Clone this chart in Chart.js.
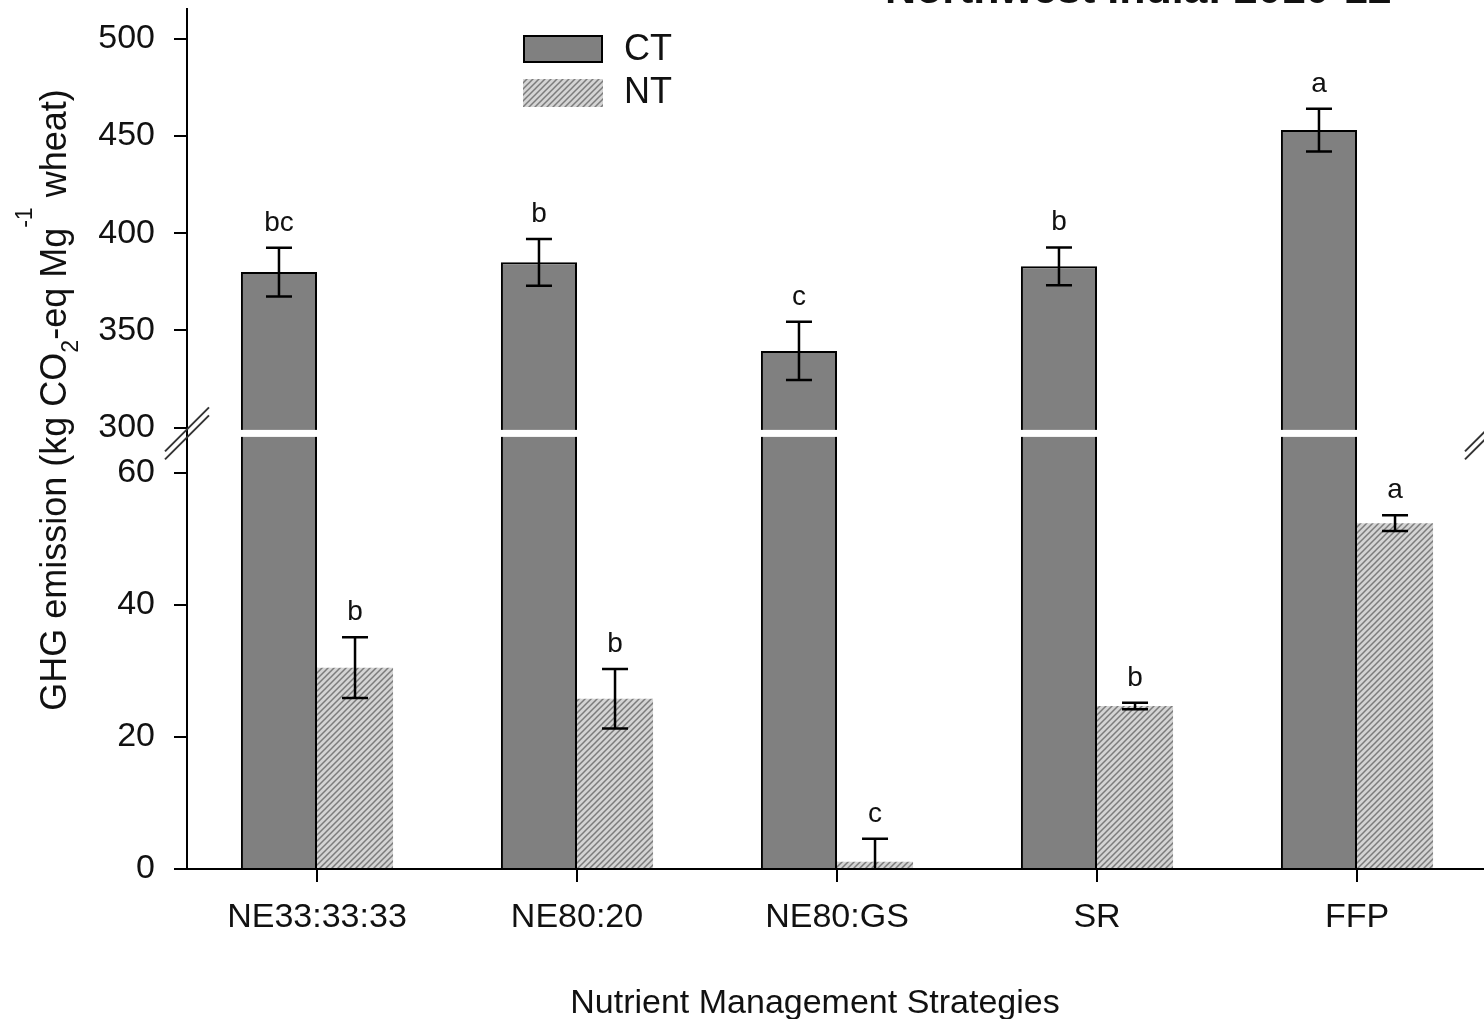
<!DOCTYPE html>
<html>
<head>
<meta charset="utf-8">
<script src="https://cdn.jsdelivr.net/npm/chart.js@4.4.1/dist/chart.umd.min.js"></script>
<style>
  html, body { margin: 0; padding: 0; background: #fff; overflow: hidden; }
  #wrap { width: 1484px; height: 1019px; overflow: hidden; position: relative; }
  canvas { position: absolute; left: 0; top: 0; }
</style>
</head>
<body>
<div id="wrap"><canvas id="ghgChart" width="1500" height="1019"></canvas></div>
<script>
// Data
const categories = ["NE33:33:33", "NE80:20", "NE80:GS", "SR", "FFP"];
const ctValues = [380, 385, 339.5, 383, 453];
const ctErrors = [12.5, 12, 15, 9.7, 11];
const ctLetters = ["bc", "b", "c", "b", "a"];
const ntValues = [30.5, 25.8, 1.1, 24.7, 52.4];
const ntErrors = [4.6, 4.5, 3.5, 0.5, 1.2];
const ntLetters = ["b", "b", "c", "b", "a"];
const lowTicks = [0, 20, 40, 60];
const highTicks = [300, 350, 400, 450, 500];

// Broken y axis: 0..66 drawn at full scale, 297..515 compressed above it
const BREAK_LOW = 66;
const BREAK_HIGH = 297.1;
const HIGH_RATIO = 0.2948;
const AXIS_MAX = 130.3;

function toAxis(v) {
  if (v <= BREAK_LOW) return v;
  if (v < BREAK_HIGH) return BREAK_LOW;
  return BREAK_LOW + (v - BREAK_HIGH) * HIGH_RATIO;
}

const FONT = "'Liberation Sans', Arial, sans-serif";
const TEXT = "#111";
const tickValues = [...lowTicks, ...highTicks];

function makeHatch() {
  const c = document.createElement("canvas");
  c.width = 6; c.height = 6;
  const g = c.getContext("2d");
  g.fillStyle = "#d4d4d4";
  g.fillRect(0, 0, 6, 6);
  g.strokeStyle = "#7c7c7c";
  g.lineWidth = 1.5;
  g.beginPath();
  g.moveTo(-1, 7); g.lineTo(7, -1);
  g.moveTo(-1, 1); g.lineTo(1, -1);
  g.moveTo(5, 7); g.lineTo(7, 5);
  g.stroke();
  return g.createPattern(c, "repeat");
}
const hatch = makeHatch();

// Error bars, letters, break gaps, legend and titles
const decor = {
  id: "decor",
  afterDatasetsDraw(chart) {
    const ctx = chart.ctx;
    const y = chart.scales.y;
    const gapY = y.getPixelForValue(BREAK_LOW);

    // white gap across the tall CT bars
    ctx.save();
    ctx.fillStyle = "#fff";
    chart.getDatasetMeta(0).data.forEach(bar => {
      ctx.fillRect(bar.x - bar.width / 2 - 2, gapY - 3.5, bar.width + 4, 7);
    });
    ctx.restore();

    const sets = [
      { vals: ctValues, errs: ctErrors, letters: ctLetters },
      { vals: ntValues, errs: ntErrors, letters: ntLetters }
    ];
    ctx.save();
    ctx.strokeStyle = "#000";
    ctx.lineWidth = 2.5;
    ctx.fillStyle = TEXT;
    ctx.font = "28px " + FONT;
    ctx.textAlign = "center";
    ctx.textBaseline = "alphabetic";
    sets.forEach((s, di) => {
      chart.getDatasetMeta(di).data.forEach((bar, i) => {
        const x = bar.x;
        const top = y.getPixelForValue(toAxis(s.vals[i] + s.errs[i]));
        const lowVal = s.vals[i] - s.errs[i];
        const bot = y.getPixelForValue(toAxis(Math.max(0, lowVal)));
        const cap = 13;
        ctx.beginPath();
        ctx.moveTo(x, top); ctx.lineTo(x, bot);
        ctx.moveTo(x - cap, top); ctx.lineTo(x + cap, top);
        if (lowVal > 0) { ctx.moveTo(x - cap, bot); ctx.lineTo(x + cap, bot); }
        ctx.stroke();
        ctx.fillText(s.letters[i], x, top - 17);
      });
    });
    ctx.restore();
  },
  afterDraw(chart) {
    const ctx = chart.ctx;
    const area = chart.chartArea;
    const gapY = chart.scales.y.getPixelForValue(BREAK_LOW);

    // axis break marks
    ctx.save();
    ctx.strokeStyle = "#333";
    ctx.lineWidth = 2;
    [area.left, area.right].forEach(cx => {
      [-4, 4].forEach(d => {
        ctx.beginPath();
        ctx.moveTo(cx - 22, gapY + 22 + d);
        ctx.lineTo(cx + 22, gapY - 22 + d);
        ctx.stroke();
      });
    });
    ctx.restore();

    // legend
    ctx.save();
    const ds = chart.data.datasets;
    ctx.fillStyle = ds[0].backgroundColor;
    ctx.fillRect(523, 35, 80, 28);
    ctx.strokeStyle = "#000";
    ctx.lineWidth = 2;
    ctx.strokeRect(524, 36, 78, 26);
    ctx.fillStyle = ds[1].backgroundColor;
    ctx.fillRect(523, 79, 80, 28);
    ctx.fillStyle = TEXT;
    ctx.font = "36px " + FONT;
    ctx.textAlign = "left";
    ctx.textBaseline = "middle";
    ctx.fillText(ds[0].label, 624, 50);
    ctx.fillText(ds[1].label, 624, 93);
    ctx.restore();

    // y axis title with sub/superscripts
    const parts = [
      { t: "GHG emission (kg CO", size: 36, dy: 0 },
      { t: "2", size: 23, dy: 12 },
      { t: "-eq Mg", size: 36, dy: 0 },
      { t: "-1", size: 23, dy: -34 },
      { t: " wheat)", size: 36, dy: 0 }
    ];
    ctx.save();
    ctx.fillStyle = TEXT;
    ctx.textBaseline = "alphabetic";
    ctx.textAlign = "left";
    let total = 0;
    parts.forEach(p => { ctx.font = p.size + "px " + FONT; p.w = ctx.measureText(p.t).width; total += p.w; });
    ctx.translate(66, 400);
    ctx.rotate(-Math.PI / 2);
    let px = -total / 2;
    parts.forEach(p => {
      ctx.font = p.size + "px " + FONT;
      ctx.fillText(p.t, px, p.dy);
      px += p.w;
    });
    ctx.restore();

    // x axis title
    ctx.save();
    ctx.fillStyle = TEXT;
    ctx.font = "34px " + FONT;
    ctx.textAlign = "center";
    ctx.textBaseline = "alphabetic";
    ctx.fillText("Nutrient Management Strategies", 815, 1013);
    // panel title, cut off at the top edge
    ctx.font = "bold 43px " + FONT;
    ctx.textAlign = "left";
    ctx.fillText("Northwest India: 2010-12", 885, 3);
    ctx.restore();
  }
};

const chart = new Chart(document.getElementById("ghgChart"), {
  type: "bar",
  data: {
    labels: categories,
    datasets: [
      {
        label: "CT",
        data: ctValues.map(toAxis),
        backgroundColor: "#808080",
        borderColor: "#000",
        borderWidth: 2,
        borderSkipped: "start"
      },
      {
        label: "NT",
        data: ntValues.map(toAxis),
        backgroundColor: hatch,
        borderWidth: 0
      }
    ]
  },
  options: {
    responsive: false,
    animation: false,
    devicePixelRatio: 1,
    layout: { padding: { top: 9, right: 13, left: 0, bottom: 0 } },
    datasets: { bar: { categoryPercentage: 0.585, barPercentage: 1 } },
    plugins: { legend: { display: false }, tooltip: { enabled: false } },
    scales: {
      x: {
        grid: { drawOnChartArea: false, offset: false, tickLength: 13, color: "#000", lineWidth: 2 },
        border: { color: "#000", width: 2 },
        ticks: { font: { family: FONT, size: 34 }, color: TEXT, padding: 15, autoSkip: false, maxRotation: 0 },
        afterFit: s => { s.height = 150; s.paddingLeft = 0; s.paddingRight = 0; }
      },
      y: {
        min: 0,
        max: AXIS_MAX,
        afterBuildTicks: s => { s.ticks = tickValues.map(v => ({ value: toAxis(v) })); },
        grid: { drawOnChartArea: false, tickLength: 13, color: "#000", lineWidth: 2 },
        border: { color: "#000", width: 2 },
        ticks: {
          font: { family: FONT, size: 34 },
          color: TEXT,
          padding: 19,
          autoSkip: false,
          callback: (val, i) => String(tickValues[i])
        },
        afterFit: s => { s.width = 187; s.paddingTop = 0; s.paddingBottom = 0; }
      }
    }
  },
  plugins: [decor]
});
</script>
</body>
</html>
